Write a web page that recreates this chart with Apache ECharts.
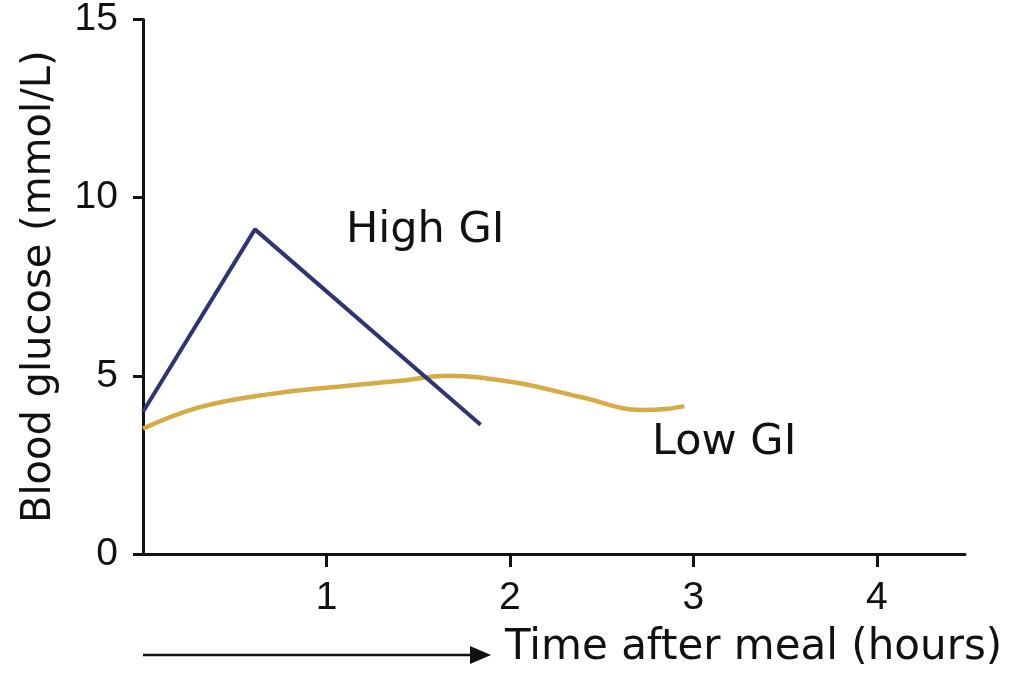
<!DOCTYPE html>
<html><head><meta charset="utf-8">
<script src="https://cdn.jsdelivr.net/npm/echarts@6/dist/echarts.min.js"></script>
<style>html,body{margin:0;padding:0;background:#fff}#c{width:1010px;height:677px}</style>
</head><body><div id="c"></div>
<script>
const highGI_x = [0, 0.61, 1.84];
const highGI_y = [3.99, 9.11, 3.63];
const lowGI_x = [0, 0.31, 0.68, 1.13, 1.40, 1.66, 2.02, 2.39, 2.72, 2.85, 2.95];
const lowGI_y = [3.52, 4.12, 4.48, 4.73, 4.86, 5.0, 4.82, 4.40, 4.04, 4.07, 4.15];
const xTicks = [1, 2, 3, 4];
const yTicks = [0, 5, 10, 15];

const chart = echarts.init(document.getElementById('c'), null, {renderer: 'canvas'});
const num = "'Liberation Sans', Arial, sans-serif";
const sans = "'DejaVu Sans', 'Liberation Sans', sans-serif";
chart.setOption({
  animation: false,
  backgroundColor: '#fff',
  grid: {left: 143, right: 45, top: 12, bottom: 123},
  xAxis: {
    type: 'value', min: 0, max: 4.48, interval: 1,
    splitLine: {show: false},
    axisLine: {show: true, onZero: false, lineStyle: {color: '#111', width: 3}},
    axisTick: {show: true, inside: false, length: 13, lineStyle: {color: '#111', width: 3}, customValues: xTicks},
    axisLabel: {show: true, margin: 25, fontSize: 39, color: '#111', fontFamily: num, customValues: xTicks}
  },
  yAxis: {
    type: 'value', min: 0, max: 15, interval: 5,
    splitLine: {show: false},
    name: 'Blood glucose (mmol/L)', nameLocation: 'middle', nameRotate: 90, nameGap: 83,
    nameTextStyle: {fontSize: 40, color: '#111', fontFamily: sans},
    axisLine: {show: true, onZero: false, lineStyle: {color: '#111', width: 3}},
    axisTick: {show: true, inside: false, length: 10, lineStyle: {color: '#111', width: 3}, customValues: yTicks},
    axisLabel: {show: true, margin: 25, fontSize: 39, color: '#111', fontFamily: num, customValues: yTicks}
  },
  series: [
    {type: 'line', name: 'Low GI', data: lowGI_x.map((x, i) => [x, lowGI_y[i]]), smooth: 0.4,
     showSymbol: false, symbol: 'none', lineStyle: {color: '#D6AA45', width: 4.5}, z: 2},
    {type: 'line', name: 'High GI', data: highGI_x.map((x, i) => [x, highGI_y[i]]), smooth: false,
     showSymbol: false, symbol: 'none', lineStyle: {color: '#2F3472', width: 4}, z: 3}
  ],
  graphic: [
    {type: 'text', style: {x: 346, y: 231, verticalAlign: 'middle', text: 'High GI', fontSize: 43, fill: '#111', fontFamily: sans}},
    {type: 'text', style: {x: 652, y: 443, verticalAlign: 'middle', text: 'Low GI', fontSize: 43, fill: '#111', fontFamily: sans}},
    {type: 'line', shape: {x1: 143, y1: 655, x2: 474, y2: 655}, style: {stroke: '#111', lineWidth: 2.5}},
    {type: 'polygon', shape: {points: [[470, 646], [491, 655], [470, 664]]}, style: {fill: '#111'}},
    {type: 'text', style: {x: 505, y: 648, verticalAlign: 'middle', text: 'Time after meal (hours)', fontSize: 42, fill: '#111', fontFamily: sans}}
  ]
});
</script></body></html>
